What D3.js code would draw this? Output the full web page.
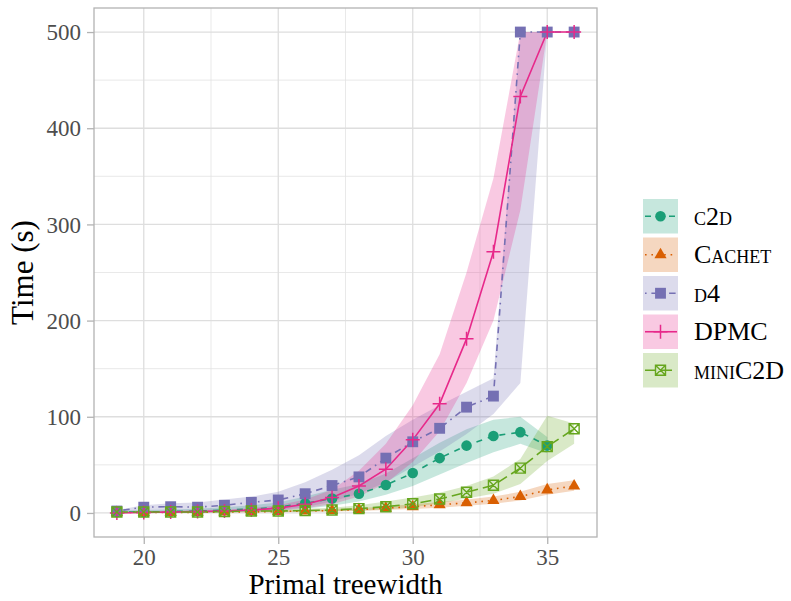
<!DOCTYPE html>
<html>
<head>
<meta charset="utf-8">
<script src="https://cdn.jsdelivr.net/npm/d3@7"></script>
<style>
  html, body { margin: 0; padding: 0; background: #fff; }
  svg { display: block; }
  text { font-family: "Liberation Serif", "DejaVu Serif", serif; }
</style>
</head>
<body>
<script>
// ---------------- data ----------------
const xAll = [19,20,21,22,23,24,25,26,27,28,29,30,31,32,33,34,35,36];
const xC2d = [19,20,21,22,23,24,25,26,27,28,29,30,31,32,33,34,35];

const c2dMid = [1,1,1.5,2,3,4,6,10,15,20,29,41.5,57,70,80,84,70];
const c2dLo  = [0,0,0,0.5,1,1.5,2.5,4.5,7.5,12,19,28,40,52,63,72,62];
const c2dHi  = [2.5,3,3.5,4.5,6,8,11,17,24,30,41,57,73,87,97,100,79];

const cachetMid = [0.5,0.5,0.5,0.7,1,1,1.5,2,2.5,3.5,5,6.5,8.5,10.5,13,17,24,28];
const cachetLo  = [0.2,0.2,0.2,0.3,0.5,0.5,0.8,1,1.5,2,3,4,5.5,7.5,9.5,13,19,23];
const cachetHi  = [1,1,1,1.2,1.6,1.8,2.5,3,4,5,7,9,11.5,14,17,22,30,34];

const d4Mid = [2,6,6.5,6,8,11,13.5,20,28.5,37.5,57,74,88,110,121.5,500,500,500];
const d4Lo  = [0,0,0,0,1,2,3,6,12,20,32,48,64,82,103,135,500,500];
const d4Hi  = [3,8,10,11,14,17,22,32,45,60,80,97,112,126,140,500,500,500];

const dpmcMid = [0,0.5,1,1.5,2,3,5,9,16,28,45.5,76,113.5,181,271.5,433,500,500];
const dpmcLo  = [0,0,0,0.5,1,1.5,2.5,5,9,17,31,53,85,135,200,315,500,500];
const dpmcHi  = [1,1.5,2,3,3.5,5,8,14,24,44,72,112,165,250,348,500,500,500];

const miniMid = [1,1,1,1,1.5,2,2,2.5,3,4.5,6.5,9.5,14.5,21.5,28.8,46.6,69,87.5];
const miniLo  = [0.5,0.5,0.5,0.5,0.8,1,1,1.5,1.8,2.5,3.5,6,10,15,20,30,54,72];
const miniHi  = [1.5,1.5,1.5,1.5,2,3,3.5,4.5,5.5,8,12,16,21,28,38,56,101,93];

const xTicks = [20,25,30,35];
const xMinor = [22.5,27.5,32.5];
const yTicks = [0,100,200,300,400,500];
const yMinor = [50,150,250,350,450];

const seriesNames = ["c2d","Cachet","d4","DPMC","miniC2D"];
const seriesColors = ["#1B9E77","#D95F02","#7570B3","#E7298A","#66A61E"];
const seriesDash = ["6,6","1.6,4.8","1.6,4.8,6.5,4.8",null,"11,5"];
const seriesShape = ["circle","triangle","square","plus","boxcross"];

const series = [
  {x:xC2d, mid:c2dMid, lo:c2dLo, hi:c2dHi},
  {x:xAll, mid:cachetMid, lo:cachetLo, hi:cachetHi},
  {x:xAll, mid:d4Mid, lo:d4Lo, hi:d4Hi},
  {x:xAll, mid:dpmcMid, lo:dpmcLo, hi:dpmcHi},
  {x:xAll, mid:miniMid, lo:miniLo, hi:miniHi}
].map((s,i)=>({
  name: seriesNames[i], color: seriesColors[i], dash: seriesDash[i], shape: seriesShape[i],
  pts: s.x.map((xv,j)=>({x:xv, y:s.mid[j], lo:s.lo[j], hi:s.hi[j]}))
}));

// ---------------- layout ----------------
const W = 791, H = 601;
const P = {l:94, r:597, t:8, b:537};

const svg = d3.select("body").append("svg").attr("width",W).attr("height",H);

const x = d3.scaleLinear().domain([18.15,36.85]).range([P.l,P.r]);
const y = d3.scaleLinear().domain([-25,525]).range([P.b,P.t]);

// grid
const grid = svg.append("g");
grid.selectAll(".vmin").data(xMinor).join("line")
  .attr("x1",d=>x(d)).attr("x2",d=>x(d)).attr("y1",P.t).attr("y2",P.b)
  .attr("stroke","#E3E3E3").attr("stroke-width",0.8);
grid.selectAll(".hmin").data(yMinor).join("line")
  .attr("y1",d=>y(d)).attr("y2",d=>y(d)).attr("x1",P.l).attr("x2",P.r)
  .attr("stroke","#E3E3E3").attr("stroke-width",0.8);
grid.selectAll(".vmaj").data(xTicks).join("line")
  .attr("x1",d=>x(d)).attr("x2",d=>x(d)).attr("y1",P.t).attr("y2",P.b)
  .attr("stroke","#DEDEDE").attr("stroke-width",1.3);
grid.selectAll(".hmaj").data(yTicks).join("line")
  .attr("y1",d=>y(d)).attr("y2",d=>y(d)).attr("x1",P.l).attr("x2",P.r)
  .attr("stroke","#DEDEDE").attr("stroke-width",1.3);

// clip
svg.append("clipPath").attr("id","clip").append("rect")
  .attr("x",P.l).attr("y",P.t).attr("width",P.r-P.l).attr("height",P.b-P.t);
const plot = svg.append("g").attr("clip-path","url(#clip)");

// ribbons
const area = d3.area().x(d=>x(d.x)).y0(d=>y(d.lo)).y1(d=>y(d.hi));
plot.selectAll(".rib").data(series).join("path")
  .attr("d",s=>area(s.pts)).attr("fill",s=>s.color).attr("fill-opacity",0.25).attr("stroke","none");

// lines
const line = d3.line().x(d=>x(d.x)).y(d=>y(d.y));
plot.selectAll(".ln").data(series).join("path")
  .attr("d",s=>line(s.pts)).attr("fill","none").attr("stroke",s=>s.color)
  .attr("stroke-width",1.6).attr("stroke-dasharray",s=>s.dash);

// point drawing
function drawShape(g, shape, color){
  if(shape==="circle"){
    g.append("path").attr("d",d3.symbol(d3.symbolCircle,88)()).attr("fill",color);
  } else if(shape==="triangle"){
    g.append("path").attr("d",d3.symbol(d3.symbolTriangle,64)()).attr("fill",color);
  } else if(shape==="square"){
    g.append("path").attr("d",d3.symbol(d3.symbolSquare,118)()).attr("fill",color);
  } else if(shape==="plus"){
    g.append("path").attr("d","M-7,0H7M0,-7V7").attr("stroke",color).attr("stroke-width",1.5).attr("fill","none");
  } else if(shape==="boxcross"){
    g.append("path").attr("d","M-5,-5H5V5H-5ZM-5,-5L5,5M5,-5L-5,5").attr("stroke",color).attr("stroke-width",1.4).attr("fill","none");
  }
}
series.forEach(s=>{
  const g = svg.append("g");
  s.pts.forEach(p=>{
    const pg = g.append("g").attr("transform",`translate(${x(p.x)},${y(p.y)})`);
    drawShape(pg, s.shape, s.color);
  });
});

// panel border
svg.append("rect").attr("x",P.l).attr("y",P.t).attr("width",P.r-P.l).attr("height",P.b-P.t)
  .attr("fill","none").attr("stroke","#B3B3B3").attr("stroke-width",1.3);

// axes
const xAxis = svg.append("g").attr("transform",`translate(0,${P.b})`)
  .call(d3.axisBottom(x).tickValues(xTicks).tickSize(7).tickPadding(6).tickFormat(d3.format("d")));
const yAxis = svg.append("g").attr("transform",`translate(${P.l},0)`)
  .call(d3.axisLeft(y).tickValues(yTicks).tickSize(7).tickPadding(5).tickFormat(d3.format("d")));
[xAxis,yAxis].forEach(a=>{
  a.select(".domain").remove();
  a.selectAll(".tick line").attr("stroke","#B3B3B3").attr("stroke-width",1.3);
  a.selectAll(".tick text").attr("fill","#4D4D4D").style("font-size","23px")
    .style("font-family","'Liberation Serif', serif");
});
xAxis.selectAll(".tick text").attr("dy",null).attr("y",28);
yAxis.selectAll(".tick text").attr("dy","0.33em").attr("x",-13);

// axis titles
svg.append("text").attr("x",(P.l+P.r)/2).attr("y",594).attr("text-anchor","middle")
  .style("font-size","29px").attr("fill","#000").text("Primal treewidth");
svg.append("text").attr("transform",`translate(33,${(P.t+P.b)/2}) rotate(-90)`)
  .attr("text-anchor","middle").style("font-size","31px").attr("fill","#000").text("Time (s)");

// legend
const legX = 643, legY0 = 199, keyW = 35, keyH = 34.5, pitch = 38.5;
const leg = svg.append("g");
series.forEach((s,i)=>{
  const ky = legY0 + i*pitch;
  const g = leg.append("g");
  g.append("rect").attr("x",legX).attr("y",ky).attr("width",keyW).attr("height",keyH)
    .attr("fill",s.color).attr("fill-opacity",0.25);
  g.append("line").attr("x1",legX+2).attr("x2",legX+keyW-1).attr("y1",ky+keyH/2).attr("y2",ky+keyH/2)
    .attr("stroke",s.color).attr("stroke-width",1.6).attr("stroke-dasharray",s.dash);
  const pg = g.append("g").attr("transform",`translate(${legX+keyW/2},${ky+keyH/2})`);
  drawShape(pg, s.shape, s.color);
  g.append("text").attr("x",694).attr("y",ky+keyH/2+8.5)
    .style("font-size","26px").style("font-variant","small-caps").attr("fill","#000").text(s.name);
});
</script>
</body>
</html>
